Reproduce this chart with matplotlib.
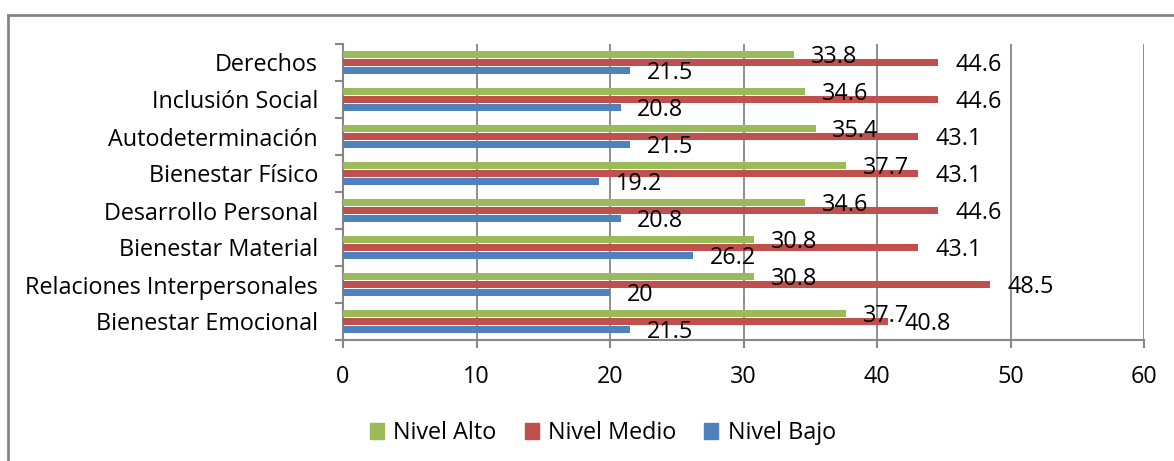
import numpy as np
import matplotlib
matplotlib.use("Agg")
import matplotlib.pyplot as plt
import matplotlib.patches as mpatches
from matplotlib.lines import Line2D

# data, top to bottom as shown in the chart
categories = [
    "Derechos",
    "Inclusión Social",
    "Autodeterminación",
    "Bienestar Físico",
    "Desarrollo Personal",
    "Bienestar Material",
    "Relaciones Interpersonales",
    "Bienestar Emocional",
]
nivel_alto = [33.8, 34.6, 35.4, 37.7, 34.6, 30.8, 30.8, 37.7]
nivel_medio = [44.6, 44.6, 43.1, 43.1, 44.6, 43.1, 48.5, 40.8]
nivel_bajo = [21.5, 20.8, 21.5, 19.2, 20.8, 26.2, 20, 21.5]
x_ticks = [0, 10, 20, 30, 40, 50, 60]

FS = 16.8
plt.rcParams["font.family"] = ["Open Sans", "DejaVu Sans"]
plt.rcParams["font.size"] = FS

green = "#9BBB59"
red = "#C0504D"
blue = "#4F81BD"
gray = "#868686"

fig = plt.figure(figsize=(11.74, 4.61), dpi=100)
ax = fig.add_axes([343 / 1174, 1 - 340 / 461, (1144 - 343) / 1174, (340 - 44) / 461])

n = len(categories)
ypos = np.arange(n)[::-1]  # first category on top
step = 0.216
height = 0.18

series = [
    ("Nivel Alto", nivel_alto, green, step),
    ("Nivel Medio", nivel_medio, red, 0.0),
    ("Nivel Bajo", nivel_bajo, blue, -step),
]
for name, vals, color, off in series:
    bars = ax.barh(ypos + off, vals, height=height, color=color, label=name, zorder=3)
    for b, v in zip(bars, vals):
        ax.annotate(f"{v:g}", (b.get_width(), b.get_y() + b.get_height() / 2),
                    xytext=(12, -2), textcoords="offset points",
                    ha="left", va="center", fontsize=FS, color="black", zorder=5)

ax.set_xlim(0, 60)
ax.set_ylim(-0.5, n - 0.5)
ax.set_xticks(x_ticks)
ax.set_yticks(ypos)
ax.set_yticklabels(categories)
ax.set_yticks(np.arange(-0.5, n, 1.0), minor=True)

ax.grid(axis="x", color=gray, linewidth=1.3, zorder=0)
for s in ["top", "right"]:
    ax.spines[s].set_visible(False)
for s in ["left", "bottom"]:
    ax.spines[s].set_color(gray)
    ax.spines[s].set_linewidth(1.5)

ax.tick_params(axis="y", which="major", length=0, pad=18)
ax.tick_params(axis="y", which="minor", length=6, width=1.5, color=gray)
ax.tick_params(axis="x", length=6, width=1.5, color=gray, pad=12)

handles = [mpatches.Patch(color=c, label=nm) for nm, _, c, _ in series]
fig.legend(handles=handles, loc="center", bbox_to_anchor=(0.5136, 0.0607),
           ncol=3, frameon=False, handlelength=0.6, handleheight=0.7,
           handletextpad=0.4, columnspacing=1.2, fontsize=FS)

# outer chart border (only top and left edges are within the picture)
fig.add_artist(Line2D([8 / 1174, 8 / 1174], [0, 1 - 15 / 461], color=gray, linewidth=2,
                      transform=fig.transFigure))
fig.add_artist(Line2D([8 / 1174, 1], [1 - 15 / 461, 1 - 15 / 461], color=gray, linewidth=2,
                      transform=fig.transFigure))

fig.savefig("out.png", dpi=100)
